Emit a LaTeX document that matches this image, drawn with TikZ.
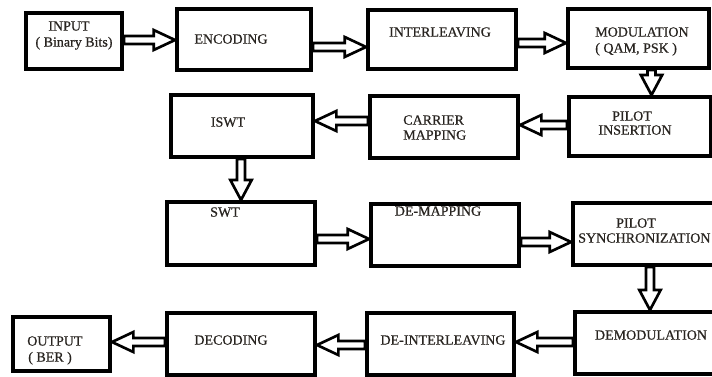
\documentclass[tikz,border=0pt]{standalone}
\usepackage{fontspec}
\setmainfont{Liberation Serif}
\newfontfamily\lblfont{Liberation Serif}[FakeBold=0.6]
\usetikzlibrary{calc,backgrounds}
\definecolor{txt}{RGB}{40,36,32}
\tikzset{
  box/.style={draw=black, line width=3pt, inner sep=0pt, rectangle},
  lbl/.style={inner sep=0pt, text=txt, font=\lblfont\fontsize{10.5}{12}\selectfont},
  arrowbase/.style={draw=black, line width=2pt, fill=white, line join=miter},
  arR/.style={arrowbase, to path={let \p1=(\tikztostart), \p2=(\tikztotarget) in
    (\x1,\y1+3pt) -- (\x2-16pt,\y1+3pt) -- (\x2-16pt,\y1+7.5pt) -- (\x2,\y1) --
    (\x2-16pt,\y1-7.5pt) -- (\x2-16pt,\y1-3pt) -- (\x1,\y1-3pt) -- cycle}},
  arL/.style={arrowbase, to path={let \p1=(\tikztostart), \p2=(\tikztotarget) in
    (\x1,\y1+3pt) -- (\x2+16pt,\y1+3pt) -- (\x2+16pt,\y1+7.5pt) -- (\x2,\y1) --
    (\x2+16pt,\y1-7.5pt) -- (\x2+16pt,\y1-3pt) -- (\x1,\y1-3pt) -- cycle}},
  arD/.style={arrowbase, to path={let \p1=(\tikztostart), \p2=(\tikztotarget) in
    (\x1-3pt,\y1) -- (\x1-3pt,\y2+15pt) -- (\x1-8pt,\y2+15pt) -- (\x1,\y2) --
    (\x1+8pt,\y2+15pt) -- (\x1+3pt,\y2+15pt) -- (\x1+3pt,\y1) -- cycle}},
}
\begin{document}
\begin{tikzpicture}[x=0.75pt,y=-0.75pt]
\useasboundingbox (0,0) rectangle (712,376);

% boxes
\node[box, minimum width=72pt,    minimum height=42pt]    (inp)   at (74,41)      {};
\node[box, minimum width=100.5pt, minimum height=45.75pt] (enc)   at (244,39.5)   {};
\node[box, minimum width=111pt,   minimum height=44.25pt] (intl)  at (442,39.5)   {};
\node[box, minimum width=105.75pt,minimum height=44.25pt] (mod)   at (638.5,38.5) {};
\node[box, minimum width=106.5pt, minimum height=46.5pt]  (iswt)  at (242,126)    {};
\node[box, minimum width=111pt,   minimum height=46.5pt]  (carr)  at (444,127)    {};
\node[box, minimum width=106.5pt, minimum height=44.25pt] (pins)  at (640,126.5)  {};
\node[box, minimum width=111pt,   minimum height=47.25pt] (swt)   at (241,233.5)  {};
\node[box, minimum width=111pt,   minimum height=46.5pt]  (demap) at (445,235)    {};
\node[box, minimum width=110.25pt,minimum height=46.5pt]  (psync) at (646.5,234)  {};
\node[box, minimum width=72.75pt, minimum height=40.5pt]  (outp)  at (61.5,344)   {};
\node[box, minimum width=111pt,   minimum height=46.5pt]  (dec)   at (241,344)    {};
\node[box, minimum width=110.25pt,minimum height=46.5pt]  (deint) at (440.5,344)  {};
\node[box, minimum width=108.75pt,minimum height=46.5pt]  (demod) at (647.5,343)  {};

% texts
\node[lbl, anchor=base] (t1a) at (69,30.6) {INPUT};
\node[lbl, anchor=base] (t1b) at (74,46.6) {( Binary Bits)};
\node[lbl, anchor=base] (t2) at (231,43.6) {ENCODING};
\node[lbl, anchor=base] (t3) at (440,36.6) {INTERLEAVING};
\node[lbl, anchor=base west] (t4a) at (595,36.6) {MODULATION};
\node[lbl, anchor=base west] (t4b) at (595,52.6) {( QAM, PSK )};
\node[lbl, anchor=base] (t5) at (228,126.6) {ISWT};
\node[lbl, anchor=base west] (t6a) at (403,124.6) {CARRIER};
\node[lbl, anchor=base west] (t6b) at (403,139.6) {MAPPING};
\node[lbl, anchor=base] (t7a) at (632,120.6) {PILOT};
\node[lbl, anchor=base] (t7b) at (635,134.6) {INSERTION};
\node[lbl, anchor=base] (t8) at (225,216.6) {SWT};
\node[lbl, anchor=base] (t9) at (438,215.6) {DE-MAPPING};
\node[lbl, anchor=base] (t10a) at (636,227.6) {PILOT};
\node[lbl, anchor=base west] (t10b) at (578,242.6) {SYNCHRONIZATION};
\node[lbl, anchor=base] (t11) at (651,339.6) {DEMODULATION};
\node[lbl, anchor=base] (t12) at (443,344.6) {DE-INTERLEAVING};
\node[lbl, anchor=base] (t13) at (231,344.6) {DECODING};
\node[lbl, anchor=base west] (t14a) at (27,345.6) {OUTPUT};
\node[lbl, anchor=base west] (t14b) at (28,361.6) {( BER )};

% connectors and white background
\begin{scope}[on background layer]
\fill[white] (0,0) rectangle (712,376);
\path[arR] ([yshift=0.75pt]inp.east) to (enc.west);
\path[arR] ([yshift=-5.6pt]enc.east) to (intl.west);
\path[arR] ([yshift=-2.6pt]intl.east) to (mod.west);
\path[arD] ([xshift=9.75pt]mod.south) to (pins.north);
\path[arL] ([yshift=1.1pt]pins.west) to (carr.east);
\path[arL] ([yshift=4.5pt]carr.west) to (iswt.east);
\path[arD] ([xshift=-0.75pt]iswt.south) to (swt.north);
\path[arR] ([yshift=-4.1pt]swt.east) to (demap.west);
\path[arR] ([yshift=-5.25pt]demap.east) to (psync.west);
\path[arD] ([xshift=2.6pt]psync.south) to (demod.north);
\path[arL] ([yshift=0.75pt]demod.west) to (deint.east);
\path[arL] ([yshift=-0.75pt]deint.west) to (dec.east);
\path[arL] ([yshift=1.5pt]dec.west) to (outp.east);
\end{scope}
\end{tikzpicture}
\end{document}
